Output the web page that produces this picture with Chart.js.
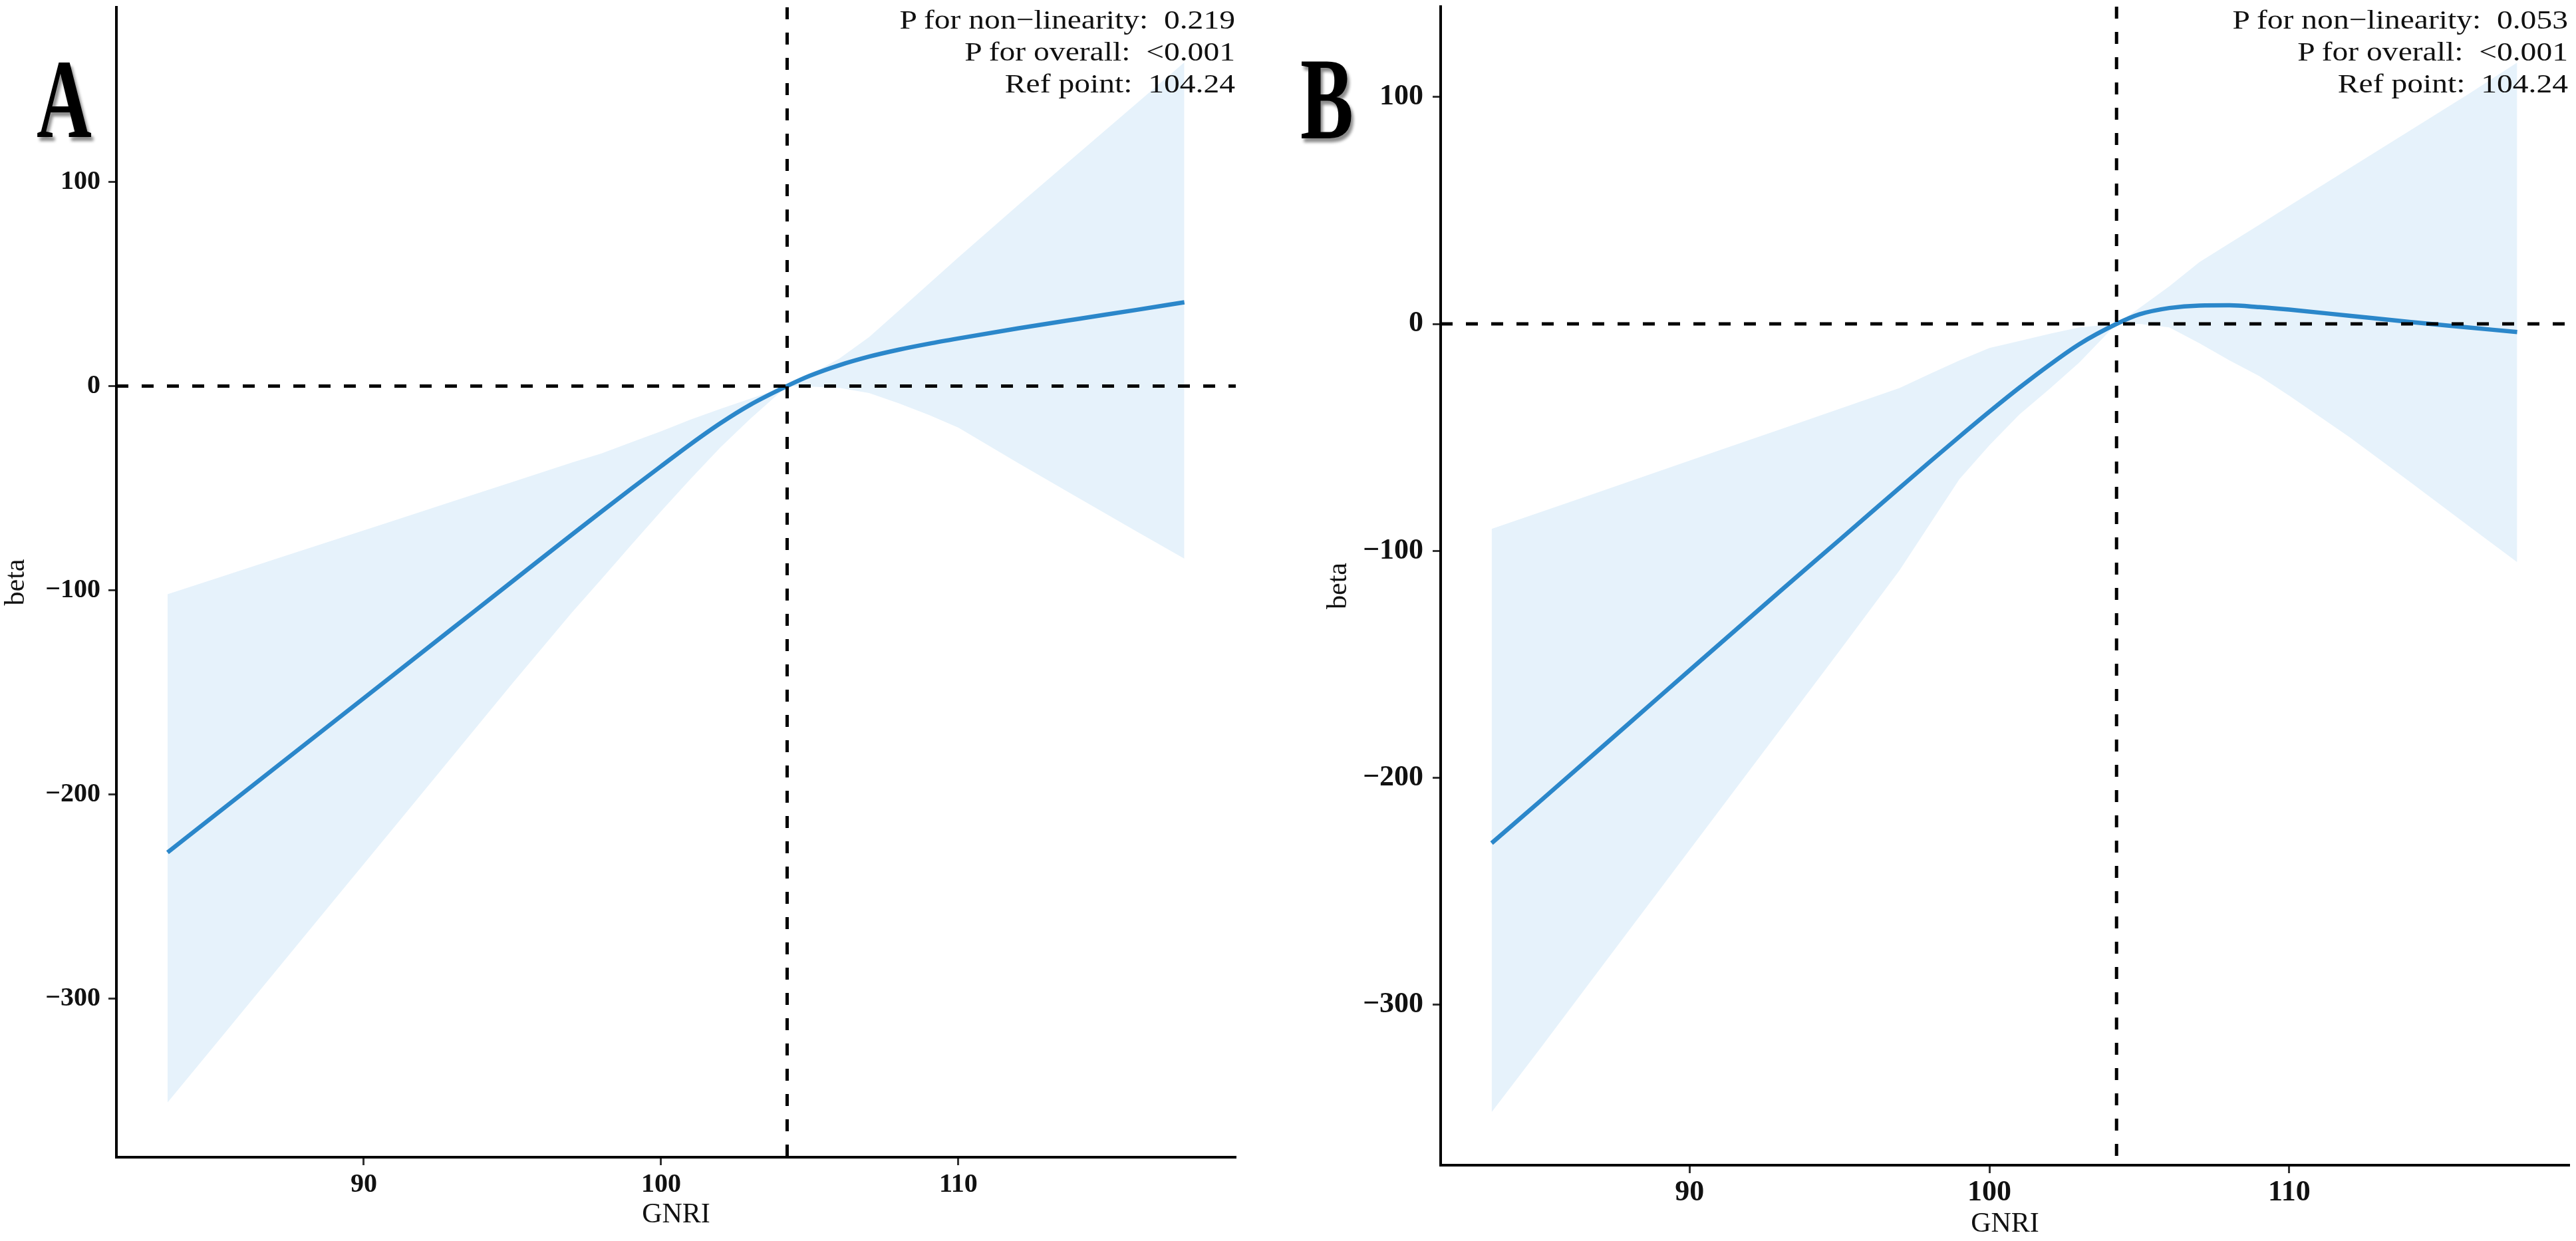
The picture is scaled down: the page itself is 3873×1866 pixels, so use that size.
<!DOCTYPE html>
<html>
<head>
<meta charset="utf-8">
<script src="https://cdn.jsdelivr.net/npm/chart.js@4.4.1/dist/chart.umd.min.js"></script>
<style>
html,body{margin:0;padding:0;background:#fff;}
body{width:3873px;height:1866px;position:relative;overflow:hidden;}
canvas{position:absolute;top:0;}
.ann{position:absolute;white-space:pre;text-align:right;font-family:'Liberation Serif',serif;font-size:41px;line-height:48px;color:#111;transform:scaleX(1.16);transform-origin:right top;}
.tag{position:absolute;font-family:'Liberation Serif',serif;font-weight:bold;line-height:1;transform-origin:left top;color:#000;text-shadow:5px 6px 5px rgba(0,0,0,0.45);}
</style>
</head>
<body>
<canvas id="cA" width="1936" height="1866" style="left:0px"></canvas>
<canvas id="cB" width="1937" height="1866" style="left:1936px"></canvas>
<div id="annA" class="ann" style="right:2016px;top:5px"></div>
<div id="annB" class="ann" style="right:12px;top:5px"></div>
<div id="tagA" class="tag" style="left:55px;top:64px;font-size:170px;transform:scaleX(0.675)"></div>
<div id="tagB" class="tag" style="left:1955px;top:61px;font-size:176px;transform:scaleX(0.68)"></div>
<script>
// ---------- data ----------
const gnri = [83.4, 85, 87, 89, 91, 93, 95, 97, 98, 99, 100, 101, 102, 103, 104.24, 105, 106, 107, 108, 109, 110, 112, 114, 116, 117.6];

const betaA  = [-228.5, -210.2, -187.3, -164.4, -141.5, -118.6, -95.7, -72.8, -61.5, -50.3, -39.3, -28.4, -18.2, -9.2, 0, 5.0, 10.2, 14.4, 17.8, 20.7, 23.3, 28.2, 32.8, 37.3, 41.0];
const upperA = [-102, -94.4, -84.9, -75.5, -66.0, -56.5, -47.0, -37.5, -33.0, -27.6, -22.2, -16.4, -11.2, -6.2, 0, 5.5, 13.5, 24, 36.9, 50, 63, 88.5, 113.5, 138.5, 158.5];
const lowerA = [-351, -322.7, -287.3, -251.9, -216.5, -181.1, -145.7, -111.0, -94.5, -77.8, -61.4, -45.4, -30.0, -16.1, 0, -0.3, -0.9, -3.5, -8.5, -14.1, -20.4, -37.7, -54.5, -71.3, -84.6];

const betaB  = [-228.8, -210.5, -187.4, -164.2, -141.1, -118.0, -95.2, -72.3, -60.9, -49.7, -38.7, -28.1, -18.1, -8.9, 0, 4.2, 7.0, 8.1, 8.2, 7.4, 6.3, 3.6, 0.9, -1.6, -3.6];
const upperB = [-90.3, -83.1, -74.0, -64.8, -55.7, -46.6, -37.4, -28.3, -22.1, -16.1, -10.6, -7.5, -4.4, -1.5, 0, 7, 16.6, 27.2, 35.5, 43.7, 52, 68.5, 85, 101.5, 115.2];
const lowerB = [-347.3, -319.6, -284.5, -249.4, -214.3, -179.2, -144.1, -108.6, -88.5, -68.4, -53.5, -39.9, -28.7, -17.0, 0, 0, -1.5, -8.5, -16, -23.0, -31.6, -49.8, -69.4, -89.2, -105];

const refPoint = 104.24;
const xTicks = [90, 100, 110];
const xTickLabels = ['90', '100', '110'];
const yTicks = [-300, -200, -100, 0, 100];
const yTickLabels = ['\u2212300', '\u2212200', '\u2212100', '0', '100'];

const annotA = ['P for non\u2212linearity:  0.219', 'P for overall:  <0.001', 'Ref point:  104.24'];
const annotB = ['P for non\u2212linearity:  0.053', 'P for overall:  <0.001', 'Ref point:  104.24'];
const panelTags = ['A', 'B'];

// ---------- style ----------
const SERIF = "'Liberation Serif', 'Times New Roman', serif";
const LINE_COLOR = 'rgb(43,135,202)';
const BAND_COLOR = 'rgb(230,242,251)';

document.getElementById('annA').textContent = annotA.join('\n');
document.getElementById('annB').textContent = annotB.join('\n');
document.getElementById('tagA').textContent = panelTags[0];
document.getElementById('tagB').textContent = panelTags[1];

const pts = (xs, ys) => xs.map((x, i) => ({x: x, y: ys[i]}));

const refLines = {
  id: 'refLines',
  afterDatasetsDraw(chart, args, opts) {
    const {ctx, chartArea: a, scales} = chart;
    ctx.save();
    ctx.strokeStyle = '#000';
    ctx.lineWidth = 5;
    ctx.setLineDash([18, 20]);
    const py = scales.y.getPixelForValue(0);
    ctx.beginPath(); ctx.moveTo(a.left, py); ctx.lineTo(a.right, py); ctx.stroke();
    const px = scales.x.getPixelForValue(opts.ref);
    ctx.beginPath(); ctx.moveTo(px, a.top); ctx.lineTo(px, a.bottom); ctx.stroke();
    ctx.restore();
  }
};

function makeChart(id, cfg) {
  const lblFor = (vals, labels) => (v) => { const i = vals.indexOf(v); return i >= 0 ? labels[i] : ''; };
  return new Chart(document.getElementById(id), {
    type: 'line',
    data: {
      datasets: [
        { label: 'beta', data: pts(gnri, cfg.beta), borderColor: LINE_COLOR, borderWidth: 6.5,
          pointRadius: 0, fill: false, cubicInterpolationMode: 'monotone', borderCapStyle: 'butt' },
        { label: 'upper', data: pts(gnri, cfg.upper), borderColor: 'transparent', borderWidth: 0,
          pointRadius: 0, tension: 0, fill: '+1', backgroundColor: BAND_COLOR },
        { label: 'lower', data: pts(gnri, cfg.lower), borderColor: 'transparent', borderWidth: 0,
          pointRadius: 0, tension: 0, fill: false }
      ]
    },
    options: {
      responsive: false,
      animation: false,
      devicePixelRatio: 1,
      layout: { padding: cfg.padding },
      plugins: { legend: { display: false }, tooltip: { enabled: false }, refLines: { ref: refPoint } },
      scales: {
        x: {
          type: 'linear', min: cfg.xMin, max: cfg.xMax,
          afterBuildTicks: s => { s.ticks = xTicks.map(v => ({value: v})); },
          afterFit: s => { s.height = cfg.xHeight; s.paddingLeft = 0; s.paddingRight = 0; },
          grid: { display: true, drawOnChartArea: false, drawTicks: true, tickLength: 12, tickWidth: 3, tickColor: '#333' },
          border: { display: true, color: '#000', width: 4 },
          ticks: { padding: cfg.xTickPad, color: '#111', font: { family: SERIF, size: cfg.tickSize, weight: 'bold' },
                   maxRotation: 0, callback: lblFor(xTicks, xTickLabels) },
          title: { display: true, text: 'GNRI', color: '#111', font: { family: SERIF, size: 42 },
                   padding: { top: 0, bottom: cfg.xTitlePad } }
        },
        y: {
          type: 'linear', min: cfg.yMin, max: cfg.yMax,
          afterBuildTicks: s => { s.ticks = yTicks.map(v => ({value: v})); },
          afterFit: s => { s.width = cfg.yWidth; s.paddingTop = 0; s.paddingBottom = 0; },
          grid: { display: true, drawOnChartArea: false, drawTicks: true, tickLength: 12, tickWidth: 3, tickColor: '#333' },
          border: { display: true, color: '#000', width: 4 },
          ticks: { padding: cfg.yTickPad, color: '#111', font: { family: SERIF, size: cfg.tickSize, weight: 'bold' },
                   callback: lblFor(yTicks, yTickLabels) },
          title: { display: true, text: 'beta', color: '#111', font: { family: SERIF, size: 42 },
                   padding: { top: cfg.yTitlePad, bottom: 0 } }
        }
      }
    },
    plugins: [refLines]
  });
}

makeChart('cA', {
  beta: betaA, upper: upperA, lower: lowerA,
  xMin: 81.68, xMax: 119.33, yMin: -377.8, yMax: 185.5,
  padding: { left: 0, right: 78, top: 11, bottom: 0 },
  yWidth: 175, xHeight: 126, tickSize: 40, xTickPad: 6, yTickPad: 12, xTitlePad: 14, yTitlePad: 0
});
makeChart('cB', {
  beta: betaB, upper: upperB, lower: lowerB,
  xMin: 81.7, xMax: 119.34, yMin: -370.7, yMax: 139.8,
  padding: { left: 0, right: 10, top: 10, bottom: 0 },
  yWidth: 230, xHeight: 114, tickSize: 44, xTickPad: 3, yTickPad: 14, xTitlePad: 0, yTitlePad: 52
});
</script>
</body>
</html>
